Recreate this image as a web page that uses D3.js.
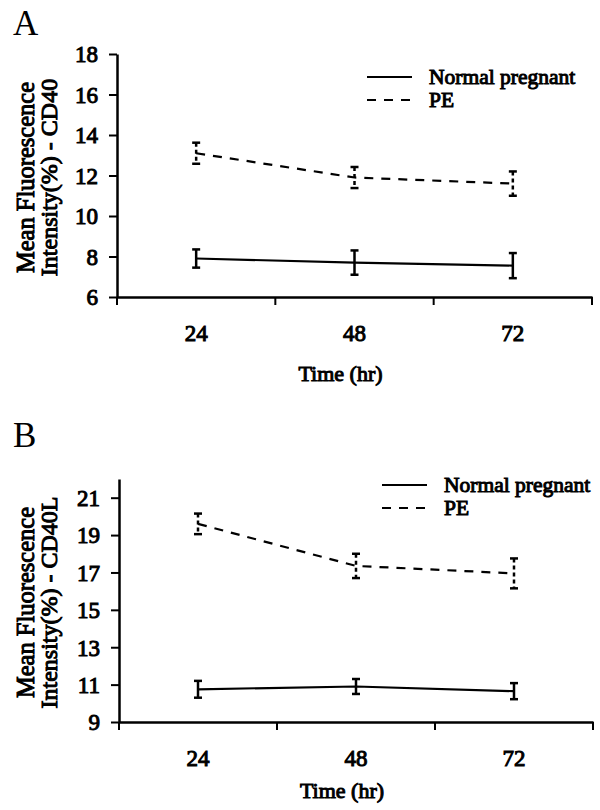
<!DOCTYPE html>
<html>
<head>
<meta charset="utf-8">
<script src="https://cdn.jsdelivr.net/npm/d3@7"></script>
<style>
  body { margin: 0; background: #fff; }
  text { font-family: "Liberation Serif", "Times New Roman", serif; fill: #000; }
  text.b { stroke: #000; stroke-width: 1px; font-weight: normal; }
</style>
</head>
<body>
<script>
// categories (hours)
const times = ["24", "48", "72"];
const seriesNames = ["Normal pregnant", "PE"];

// panel A - CD40
const cd40Normal = [7.9, 7.7, 7.55];
const cd40NormalErr = [0.45, 0.6, 0.62];
const cd40PE = [13.1, 11.9, 11.6];
const cd40PEErr = [0.52, 0.52, 0.6];
const cd40Ticks = [6, 8, 10, 12, 14, 16, 18];

// panel B - CD40L
const cd40lNormal = [10.75, 10.9, 10.65];
const cd40lNormalErr = [0.45, 0.4, 0.43];
const cd40lPE = [19.6, 17.35, 16.95];
const cd40lPEErr = [0.55, 0.65, 0.8];
const cd40lTicks = [9, 11, 13, 15, 17, 19, 21];

const W = 600, H = 810;
const DASH = "9,8";

const svg = d3.select("body").append("svg")
  .attr("width", W)
  .attr("height", H);

function panel(opt) {
  const g = svg.append("g");

  const x = d3.scaleBand().domain(times).range([opt.left, opt.right]);
  const y = d3.scaleLinear().domain(opt.domain).range([opt.bottom, opt.top]);

  // panel letter
  g.append("text")
    .attr("x", 13).attr("y", opt.letterY)
    .style("font-size", "35px")
    .text(opt.letter);

  // y axis
  const ya = g.append("g")
    .attr("transform", `translate(${opt.left},0)`)
    .call(d3.axisLeft(y).tickValues(opt.ticks).tickSize(8).tickSizeOuter(0).tickPadding(11));
  ya.select(".domain").attr("stroke-width", 2.5);
  ya.selectAll(".tick line").attr("stroke-width", 2);
  ya.selectAll(".tick text").attr("class", "b")
    .style("font-family", "'Liberation Serif', serif")
    .style("font-size", "23px").attr("dy", "0.34em");

  // x axis (labels at centres, ticks between categories)
  const xa = g.append("g")
    .attr("transform", `translate(0,${opt.bottom})`)
    .call(d3.axisBottom(x).tickSize(0).tickSizeOuter(0).tickPadding(28));
  xa.select(".domain").attr("stroke-width", 2.5);
  xa.selectAll(".tick text").attr("class", "b")
    .style("font-family", "'Liberation Serif', serif")
    .style("font-size", "23px");

  const edges = [x.range()[0]].concat(times.map(t => x(t) + x.bandwidth()));
  g.selectAll(".xtick").data(edges).join("line")
    .attr("x1", d => d).attr("x2", d => d)
    .attr("y1", opt.bottom).attr("y2", opt.bottom + 8)
    .attr("stroke", "#000").attr("stroke-width", 2);

  // axis titles
  g.append("text").attr("class", "b")
    .attr("x", (opt.left + opt.right) / 2 - 14).attr("y", opt.bottom + opt.titleDy)
    .attr("text-anchor", "middle")
    .style("font-size", "22px")
    .text("Time (hr)");

  const cy = (opt.top + opt.bottom) / 2 + 2;
  g.append("text").attr("class", "b")
    .attr("transform", `translate(34,${cy}) rotate(-90)`)
    .attr("text-anchor", "middle")
    .style("font-size", "24.5px")
    .text("Mean Fluorescence");
  g.append("text").attr("class", "b")
    .attr("transform", `translate(57,${cy}) rotate(-90)`)
    .attr("text-anchor", "middle")
    .style("font-size", "24px")
    .text("Intensity(%) - " + opt.marker);

  // series
  const series = [
    { name: seriesNames[0], vals: opt.normal, err: opt.normalErr, dash: null },
    { name: seriesNames[1], vals: opt.pe, err: opt.peErr, dash: DASH }
  ];
  const cx = t => x(t) + x.bandwidth() / 2;
  const line = d3.line().x((d, i) => cx(times[i])).y(d => y(d));

  series.forEach(s => {
    g.append("path")
      .datum(s.vals)
      .attr("d", line)
      .attr("fill", "none")
      .attr("stroke", "#000")
      .attr("stroke-width", 2.2)
      .attr("stroke-dasharray", s.dash);

    const eb = g.append("g");
    s.vals.forEach((v, i) => {
      const px = cx(times[i]);
      const y1 = y(v + s.err[i]), y0 = y(v - s.err[i]);
      eb.append("line")
        .attr("x1", px).attr("x2", px).attr("y1", y1).attr("y2", y0)
        .attr("stroke", "#000").attr("stroke-width", 2.5)
        .attr("stroke-dasharray", s.dash ? "4,3" : null);
      [y1, y0].forEach(yy => {
        eb.append("line")
          .attr("x1", px - 4).attr("x2", px + 4).attr("y1", yy).attr("y2", yy)
          .attr("stroke", "#000").attr("stroke-width", 2.5);
      });
    });
  });

  // legend
  const lg = g.append("g").attr("transform", `translate(${opt.legendX},${opt.legendY})`);
  series.forEach((s, i) => {
    lg.append("line")
      .attr("x1", 0).attr("x2", 45).attr("y1", i * 23).attr("y2", i * 23)
      .attr("stroke", "#000").attr("stroke-width", 2.2)
      .attr("stroke-dasharray", s.dash);
    lg.append("text").attr("class", "b")
      .attr("x", 62).attr("y", i * 23 + 7)
      .style("font-size", "21.5px")
      .text(s.name);
  });
}

panel({
  letter: "A", letterY: 35, marker: "CD40",
  left: 117, right: 592, top: 54, bottom: 297,
  domain: [6, 18], ticks: cd40Ticks,
  normal: cd40Normal, normalErr: cd40NormalErr,
  pe: cd40PE, peErr: cd40PEErr,
  legendX: 367, legendY: 77, titleDy: 84
});

panel({
  letter: "B", letterY: 447, marker: "CD40L",
  left: 119, right: 593, top: 479, bottom: 722,
  domain: [9, 22], ticks: cd40lTicks,
  normal: cd40lNormal, normalErr: cd40lNormalErr,
  pe: cd40lPE, peErr: cd40lPEErr,
  legendX: 382, legendY: 485, titleDy: 76
});
</script>
</body>
</html>
